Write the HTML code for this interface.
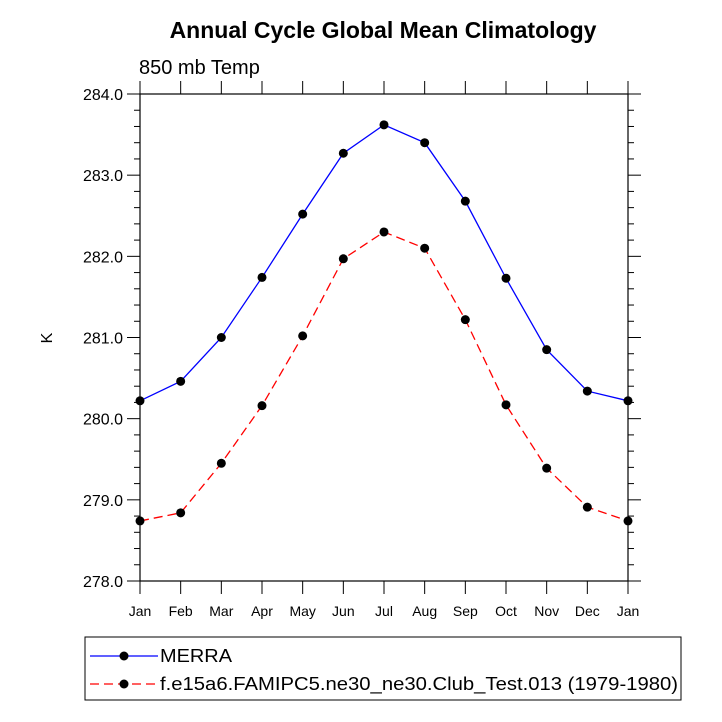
<!DOCTYPE html>
<html><head><meta charset="utf-8"><style>body{margin:0;background:#fff}svg{display:block}text{font-family:"Liberation Sans",sans-serif}</style></head>
<body>
<svg id="c" width="722" height="722">
<text x="383" y="38" text-anchor="middle" font-size="23" font-weight="bold">Annual Cycle Global Mean Climatology</text>
<text x="139" y="74" font-size="20">850 mb Temp</text>
<text transform="translate(52,338) rotate(-90)" text-anchor="middle" font-size="16">K</text>
</svg>
<script>
const months=["Jan","Feb","Mar","Apr","May","Jun","Jul","Aug","Sep","Oct","Nov","Dec","Jan"];
const yTicks=[278,279,280,281,282,283,284];
const merra=[280.22,280.46,281.0,281.74,282.52,283.27,283.62,283.40,282.68,281.73,280.85,280.34,280.22];
const model=[278.74,278.84,279.45,280.16,281.02,281.97,282.30,282.10,281.22,280.17,279.39,278.91,278.74];
const L=140,R=628,T=94,B=581,ymin=278,ymax=284;
const svg=document.getElementById('c');const NS='http://www.w3.org/2000/svg';
function X(i){return L+(R-L)*i/(months.length-1);}
function Y(v){return B-(B-T)*(v-ymin)/(ymax-ymin);}
function mk(t,a,p){const e=document.createElementNS(NS,t);for(const k in a)e.setAttribute(k,a[k]);(p||svg).appendChild(e);return e;}
let r=mk('rect',{x:L,y:T,width:R-L,height:B-T,fill:'none',stroke:'#000','stroke-width':1.2});


for(let v=ymin;v<=ymax+1e-9;v+=0.2){const maj=Math.abs(v-Math.round(v))<1e-6;const len=maj?13:6;
 let t=mk('line',{x1:L-len,x2:L,y1:Y(v),y2:Y(v),stroke:'#000','stroke-width':1});
 
 
 let t2=mk('line',{x1:R,x2:R+len,y1:Y(v),y2:Y(v),stroke:'#000','stroke-width':1});
 
 }
yTicks.forEach(v=>{let t=mk('text',{x:L-17,y:Y(v)+6,'text-anchor':'end','font-size':16});t.textContent=v.toFixed(1);
 
 });
months.forEach((m,i)=>{let a=mk('line',{x1:X(i),x2:X(i),y1:T-13,y2:T,stroke:'#000'});
 
 
 let b=mk('line',{x1:X(i),x2:X(i),y1:B,y2:B+13,stroke:'#000'});
 
 
 let t=mk('text',{x:X(i),y:B+35,'text-anchor':'middle','font-size':14});t.textContent=m;
 
 });
function series(d,col,dash,name){let p=mk('polyline',{points:d.map((v,i)=>X(i)+','+Y(v)).join(' '),fill:'none',stroke:col,'stroke-width':1.3,'stroke-dasharray':dash});
 
 
 d.forEach((v,i)=>{let c=mk('circle',{cx:X(i),cy:Y(v),r:4.5,fill:'#000'});
 
 });}
series(merra,'#0000ff','none','merra');
series(model,'#ff0000','9 5','model');
let lg=mk('rect',{x:85,y:637,width:596,height:63,fill:'none',stroke:'#000','stroke-width':1});


[[656,'#0000ff','none','MERRA',72],[684,'#ff0000','9 5','f.e15a6.FAMIPC5.ne30_ne30.Club_Test.013 (1979-1980)',518]].forEach(([y,c,d,txt,w])=>{
 let l=mk('line',{x1:90,x2:158,y1:y,y2:y,stroke:c,'stroke-width':1.3,'stroke-dasharray':d});
 
 
 let m=mk('circle',{cx:124,cy:y,r:4.5,fill:'#000'});
 
 
 let t=mk('text',{x:160,y:y+6,'font-size':18,textLength:w,lengthAdjust:'spacingAndGlyphs'});t.textContent=txt;
 
 });
</script>
</body></html>
